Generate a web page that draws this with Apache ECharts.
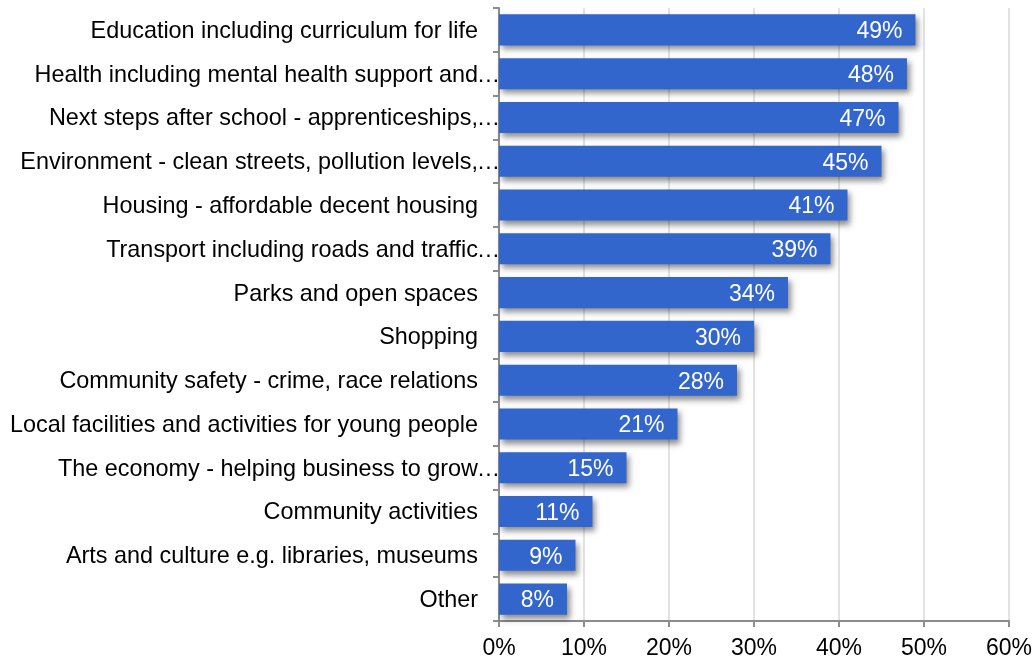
<!DOCTYPE html>
<html>
<head>
<meta charset="utf-8">
<script src="https://cdn.jsdelivr.net/npm/echarts@6/dist/echarts.min.js"></script>
<style>
  html, body { margin: 0; padding: 0; background: #fff; }
  #chart { width: 1035px; height: 662px; }
</style>
</head>
<body>
<div id="chart"></div>
<script>
// Priority areas, top to bottom
const categories = [
  'Education including curriculum for life',
  'Health including mental health support and',
  'Next steps after school - apprenticeships,',
  'Environment - clean streets, pollution levels,',
  'Housing - affordable decent housing',
  'Transport including roads and traffic',
  'Parks and open spaces',
  'Shopping',
  'Community safety - crime, race relations',
  'Local facilities and activities for young people',
  'The economy - helping business to grow',
  'Community activities',
  'Arts and culture e.g. libraries, museums',
  'Other'
];
// Labels that were cut short get a trailing ellipsis
const truncated = [false, true, true, true, false, true, false, false, false, false, true, false, false, false];
// Share of respondents (%)
const values = [49, 48, 47, 45, 41, 39, 34, 30, 28, 21, 15, 11, 9, 8];
const xTicks = [0, 10, 20, 30, 40, 50, 60];

const FONT = '"Liberation Sans", Arial, sans-serif';
const FS = 23;
const FS_CAT = 23.4;
const chart = echarts.init(document.getElementById('chart'));

chart.setOption({
  animation: false,
  grid: { left: 499, right: 26, top: 8, bottom: 41, containLabel: false },
  xAxis: {
    type: 'value',
    min: xTicks[0],
    max: xTicks[xTicks.length - 1],
    interval: 10,
    axisLine: { show: true, lineStyle: { color: '#8c8c8c', width: 2 } },
    axisTick: { show: true, length: 6, lineStyle: { color: '#8c8c8c', width: 2 } },
    splitLine: { show: true, lineStyle: { color: '#d9d9d9', width: 1.5 } },
    axisLabel: {
      formatter: v => v + '%',
      fontFamily: FONT, fontSize: FS, color: '#000', margin: 16
    }
  },
  yAxis: {
    type: 'category',
    inverse: true,
    data: categories,
    axisLine: { show: true, lineStyle: { color: '#8c8c8c', width: 2 } },
    axisTick: { show: true, length: 6, lineStyle: { color: '#8c8c8c', width: 2 } },
    axisLabel: {
      margin: 0,
      fontFamily: FONT, fontSize: FS_CAT, color: '#000',
      // every label keeps a trailing slot; cut-short labels show an ellipsis in it
      formatter: (v, i) => '{t|' + v + '}' + (truncated[i] ? '{e|…}' : '{s|}'),
      rich: {
        t: { fontFamily: FONT, fontSize: FS_CAT, color: '#000', padding: [3, 0, 0, 0] },
        e: { fontFamily: FONT, fontSize: FS_CAT, color: '#000', width: 21, align: 'left', padding: [3, 0, 0, 0] },
        s: { fontFamily: FONT, fontSize: FS_CAT, width: 21 }
      }
    }
  },
  series: [{
    type: 'bar',
    data: values,
    barCategoryGap: '29%',
    itemStyle: {
      color: '#3366cc',
      shadowColor: 'rgba(0,0,0,0.45)',
      shadowBlur: 6,
      shadowOffsetX: 3,
      shadowOffsetY: 4
    },
    label: {
      show: true,
      position: 'insideRight',
      distance: 13,
      offset: [0, 2],
      formatter: p => p.value + '%',
      fontFamily: FONT, fontSize: FS, color: '#fff'
    }
  }]
});
</script>
</body>
</html>
